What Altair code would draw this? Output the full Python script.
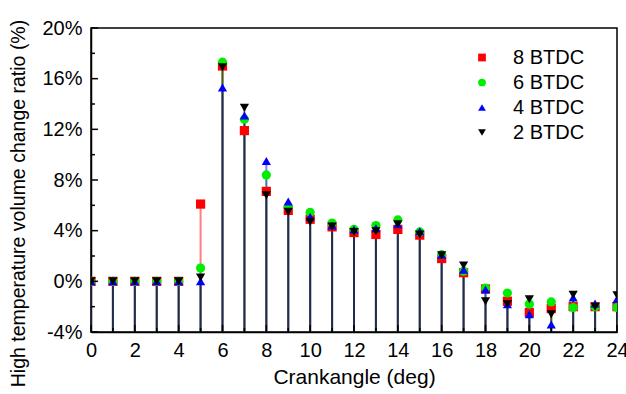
import altair as alt
import pandas as pd

crank = list(range(25))
series_names = ["8 BTDC", "6 BTDC", "4 BTDC", "2 BTDC"]
colors = ["#ff0000", "#00ee00", "#0000ff", "#000000"]
shapes = ["square", "circle", "triangle-up", "triangle-down"]

s8 = [0, 0, 0, 0, 0, 6.1, 17.0, 11.9, 7.1, 5.6, 4.9, 4.3, 3.85, 3.7, 4.1, 3.65, 1.8, 0.68, -0.6, -1.57, -2.46, -2.15, -2.0, -2.0, -2.0]
s6 = [0, 0, 0, 0, 0, 1.05, 17.3, 12.8, 8.4, 5.85, 5.45, 4.6, 4.1, 4.4, 4.85, 3.9, 2.1, 0.8, -0.53, -0.92, -1.8, -1.63, -2.07, -2.0, -2.07]
s4 = [0, 0, 0, 0, 0, 0, 15.3, 13.1, 9.5, 6.3, 5.1, 4.4, 4.1, 4.2, 4.5, 3.95, 2.1, 0.92, -0.65, -1.8, -2.6, -3.4, -1.28, -1.75, -1.4]
s2 = [0, 0, 0, 0, 0, 0.3, 16.9, 13.7, 6.8, 5.5, 4.7, 4.33, 3.9, 3.95, 4.5, 3.7, 2.05, 1.26, -1.57, -1.8, -1.42, -2.6, -1.05, -2.0, -1.1]

y_major = [-4, 0, 4, 8, 12, 16, 20]
y_minor = [-2, 2, 6, 10, 14, 18]
x_major = [0, 2, 4, 6, 8, 10, 12, 14, 16, 18, 20, 22, 24]
x_minor = [1, 3, 5, 7, 9, 11, 13, 15, 17, 19, 21, 23]

rows = []
for name, vals in zip(series_names, [s8, s6, s4, s2]):
    for xv, yv in zip(crank, vals):
        rows.append({"x": xv, "v": yv, "s": name})
df = pd.DataFrame(rows)

W, H = 526, 304
FONT = "Liberation Sans"

xscale = alt.Scale(domain=[0, 24], nice=False, zero=False)
yscale = alt.Scale(domain=[-4, 20], nice=False, zero=False)
cscale = alt.Scale(domain=series_names, range=colors)
sscale = alt.Scale(domain=series_names, range=shapes)

xaxis = alt.Axis(values=x_major, ticks=False, grid=False, title="Crankangle (deg)",
                 labelFontSize=20, titleFontSize=21, labelPadding=8, titlePadding=6,
                 labelFlush=False, labelOverlap=False,
                 domainColor="black", domainWidth=1.5, labelColor="black", titleColor="black",
                 titleFontWeight="normal", labelFont=FONT, titleFont=FONT)
yaxis = alt.Axis(values=y_major, ticks=False, grid=False,
                 title="High temperature volume change ratio (%)",
                 labelExpr="datum.value + '%'", labelFlush=False, labelOverlap=False,
                 labelFontSize=20, titleFontSize=19.5, labelPadding=9, titlePadding=13,
                 titleY=175,
                 domainColor="black", domainWidth=1.5, labelColor="black", titleColor="black",
                 titleFontWeight="normal", labelFont=FONT, titleFont=FONT)

base = alt.Chart(df)

stem_layers = []
for name, col in zip(series_names, colors):
    stem_layers.append(
        base.transform_filter(alt.datum.s == name).mark_rule(
            strokeWidth=2, opacity=0.5, clip=True, color=col).encode(
            x=alt.X("x:Q", scale=xscale, axis=xaxis),
            y=alt.Y("v:Q", scale=yscale, axis=yaxis),
            y2=alt.datum(-4),
        )
    )

points = base.mark_point(filled=True, opacity=1, size=85, clip=True).encode(
    x=alt.X("x:Q", scale=xscale, axis=xaxis),
    y=alt.Y("v:Q", scale=yscale, axis=yaxis),
    color=alt.Color("s:N", scale=cscale, title=None,
                    legend=alt.Legend(orient="none", legendX=381, legendY=19.5,
                                      labelFontSize=20, labelFont=FONT, labelColor="black",
                                      labelOffset=21, rowPadding=5, symbolSize=60,
                                      symbolStrokeWidth=0, padding=0)),
    shape=alt.Shape("s:N", scale=sscale, title=None),
)

def tick_layer(vals, ch, length):
    d = alt.Chart(pd.DataFrame({"x": vals, "v": vals}))
    if ch == "y":
        return d.mark_rule(color="black", strokeWidth=1.5).encode(
            y=alt.Y("v:Q", scale=yscale, axis=yaxis), x=alt.value(0), x2=alt.value(length))
    return d.mark_rule(color="black", strokeWidth=1.5).encode(
        x=alt.X("x:Q", scale=xscale, axis=xaxis), y=alt.value(H), y2=alt.value(H - length))

ticks = [tick_layer(y_major, "y", 7), tick_layer(y_minor, "y", 4),
         tick_layer(x_major, "x", 7), tick_layer(x_minor, "x", 4)]

chart = alt.layer(*stem_layers, points, *ticks).properties(
    width=W, height=H,
    autosize=alt.AutoSizeParams(type="none"),
    padding={"left": 91, "top": 28, "right": 9, "bottom": 62},
    background="white",
).configure_view(stroke="black", strokeWidth=1.5)

chart.save("out.html", embed_options={"renderer": "svg", "actions": False})
